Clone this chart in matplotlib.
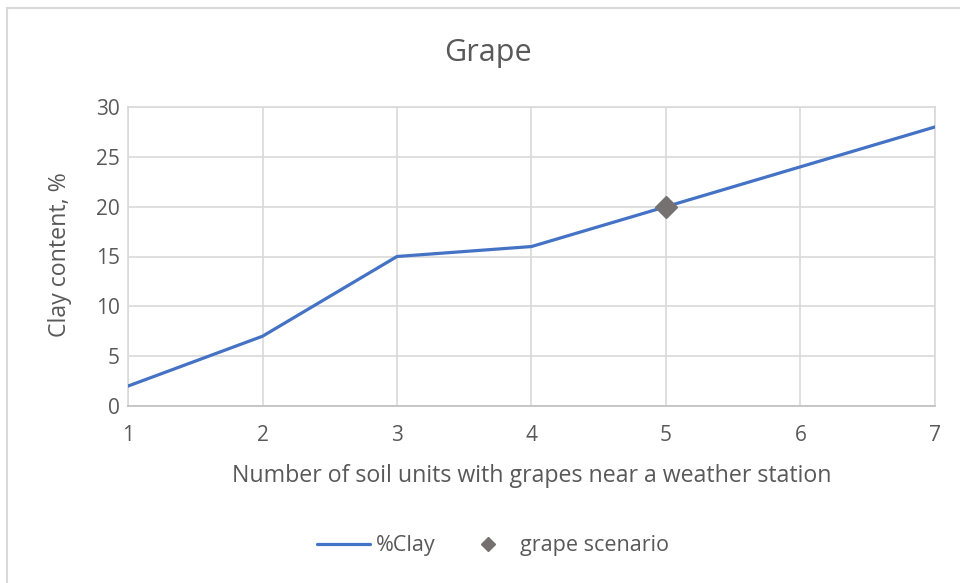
import matplotlib.pyplot as plt
from matplotlib.lines import Line2D

soil_units = [1, 2, 3, 4, 5, 6, 7]
clay_pct = [2, 7, 15, 16, 20, 24, 28]
scenario_x = [5]
scenario_y = [20]
y_ticks = [0, 5, 10, 15, 20, 25, 30]

txt = "#595959"
plt.rcParams['font.family'] = ['Open Sans', 'DejaVu Sans']

W, H = 960, 583
fig = plt.figure(figsize=(W / 100, H / 100), dpi=100)
ax = fig.add_axes([128 / W, 1 - 406 / H, (935 - 128) / W, (406 - 107) / H])

# chart frame (top and left edges)
fig.add_artist(Line2D([7 / W, 1], [1 - 8 / H] * 2, color="#d9d9d9", lw=1.5))
fig.add_artist(Line2D([7 / W] * 2, [0, 1 - 8 / H], color="#d9d9d9", lw=1.5))

ax.plot(soil_units, clay_pct, color="#4472C4", lw=2.3, label="%Clay", zorder=3,
        solid_capstyle="round")
ax.plot(scenario_x, scenario_y, ls="none", marker="D", ms=11, color="#767171",
        label="grape scenario", zorder=4)

ax.set_xlim(1, 7)
ax.set_ylim(0, 30)
ax.set_xticks(soil_units)
ax.set_yticks(y_ticks)
ax.grid(True, color="#d9d9d9", lw=1.2)
ax.set_axisbelow(True)
for s in ax.spines.values():
    s.set_color("#d9d9d9")
    s.set_linewidth(1.2)
ax.spines["bottom"].set_color("#bfbfbf")
ax.tick_params(length=0, labelsize=15, colors=txt)
ax.tick_params(axis="x", pad=14)
ax.tick_params(axis="y", pad=6)

fig.text(488 / W, 1 - 53 / H, "Grape", fontsize=22, color=txt,
         ha="center", va="center")
fig.text(532 / W, 1 - 476 / H,
         "Number of soil units with grapes near a weather station",
         fontsize=16.7, color=txt, ha="center", va="center")
fig.text(60 / W, 1 - 255 / H, "Clay content, %", fontsize=16.7, color=txt,
         ha="center", va="center", rotation=90)

ax.legend(loc="center", bbox_to_anchor=(493 / W, 1 - 546 / H),
          bbox_transform=fig.transFigure, ncol=2, frameon=False,
          fontsize=15.5, labelcolor=txt, handlelength=2.5, columnspacing=1.2,
          handletextpad=0.25, markerscale=0.65)

fig.savefig("out.png", dpi=100)
